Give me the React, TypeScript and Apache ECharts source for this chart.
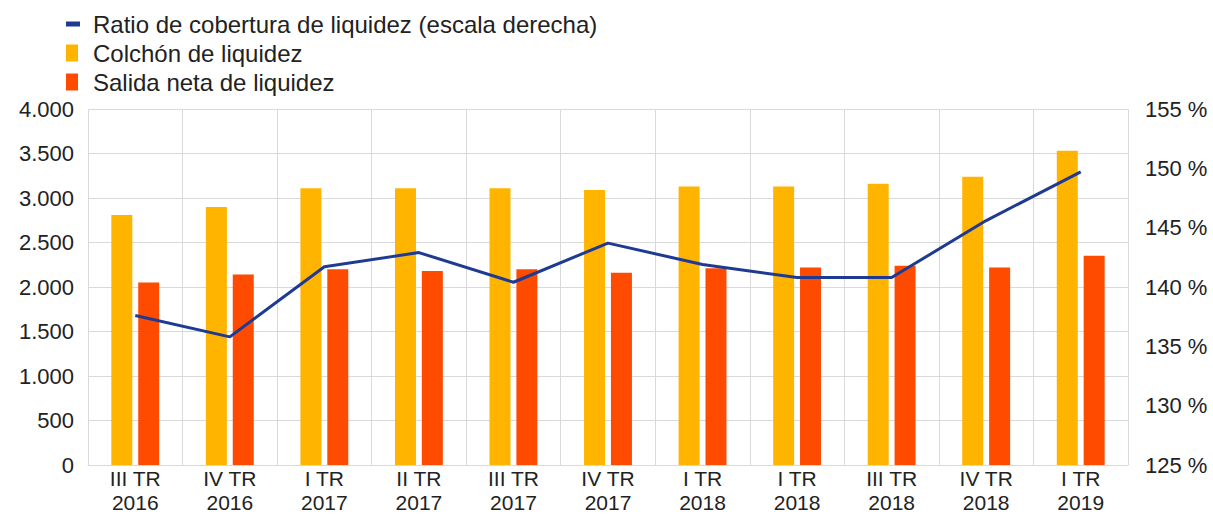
import React, { useEffect, useRef } from "react";
import * as echarts from "echarts";

const categories = [
  "III TR\n2016", "IV TR\n2016", "I TR\n2017", "II TR\n2017", "III TR\n2017", "IV TR\n2017",
  "I TR\n2018", "I TR\n2018", "III TR\n2018", "IV TR\n2018", "I TR\n2019",
];
const colchon = [2810, 2900, 3110, 3110, 3110, 3090, 3130, 3130, 3160, 3240, 3530];
const salida = [2050, 2140, 2200, 2180, 2200, 2160, 2210, 2220, 2240, 2220, 2350];
const ratio = [137.6, 135.8, 141.7, 142.9, 140.4, 143.7, 141.9, 140.8, 140.8, 145.6, 149.7];

const NAME_RATIO = "Ratio de cobertura de liquidez (escala derecha)";
const NAME_COLCHON = "Colchón de liquidez";
const NAME_SALIDA = "Salida neta de liquidez";

const FONT = "'Liberation Sans', Arial, sans-serif";
const TXT = "#222222";
const GRIDC = "#d9d9d9";
const BLUE = "#1f3a93";

export default function App() {
  const ref = useRef<HTMLDivElement>(null);
  useEffect(() => {
    if (!ref.current) return;
    const chart = echarts.init(ref.current, null, { renderer: "svg" });
    const fmtThousands = (v: number) =>
      String(v).replace(/\B(?=(\d{3})+(?!\d))/g, ".");
    const corners = "M0,0 L0.01,0 L0.01,0.01 Z M21.99,16.99 L22,16.99 L22,17 Z";
    chart.setOption({
      animation: false,
      textStyle: { fontFamily: FONT },
      legend: {
        orient: "vertical",
        left: 61,
        top: 7,
        itemWidth: 22,
        itemHeight: 17,
        itemGap: 5,
        textStyle: { fontFamily: FONT, fontSize: 24, lineHeight: 24, color: TXT },
        data: [
          {
            name: NAME_RATIO,
            icon: "path://" + corners + " M0,6 L14,6 L14,11 L0,11 Z",
            itemStyle: { color: BLUE },
          },
          { name: NAME_COLCHON, icon: "path://" + corners + " M0,0 L12,0 L12,17 L0,17 Z" },
          { name: NAME_SALIDA, icon: "path://" + corners + " M0,0 L12,0 L12,17 L0,17 Z" },
        ],
      },
      grid: { left: 88, right: 85, top: 109, bottom: 45 },
      xAxis: {
        type: "category",
        data: categories,
        boundaryGap: true,
        axisLine: { show: true, lineStyle: { color: GRIDC, width: 1 } },
        axisTick: { show: false },
        axisLabel: {
          interval: 0,
          color: TXT,
          fontFamily: FONT,
          fontSize: 21,
          lineHeight: 24,
          margin: 1,
        },
        splitLine: { show: true, interval: 0, lineStyle: { color: GRIDC, width: 1 } },
      },
      yAxis: [
        {
          type: "value",
          min: 0,
          max: 4000,
          interval: 500,
          axisLine: { show: false },
          axisTick: { show: false },
          axisLabel: {
            color: TXT,
            fontFamily: FONT,
            fontSize: 22,
            margin: 14,
            formatter: (v: number) => fmtThousands(v),
          },
          splitLine: { show: true, lineStyle: { color: GRIDC, width: 1 } },
        },
        {
          type: "value",
          min: 125,
          max: 155,
          interval: 5,
          position: "right",
          axisLine: { show: false },
          axisTick: { show: false },
          axisLabel: {
            color: TXT,
            fontFamily: FONT,
            fontSize: 22,
            margin: 17,
            formatter: "{value} %",
          },
          splitLine: { show: false },
        },
      ],
      series: [
        {
          name: NAME_COLCHON,
          type: "bar",
          data: colchon,
          barWidth: 21,
          barGap: "28%",
          itemStyle: { color: "#ffb400" },
        },
        {
          name: NAME_SALIDA,
          type: "bar",
          data: salida,
          barWidth: 21,
          barGap: "28%",
          itemStyle: { color: "#ff4b00" },
        },
        {
          name: NAME_RATIO,
          type: "line",
          yAxisIndex: 1,
          data: ratio,
          symbol: "none",
          z: 5,
          lineStyle: { color: BLUE, width: 3 },
          itemStyle: { color: BLUE },
        },
      ],
    });
    return () => chart.dispose();
  }, []);
  return (
    <div
      ref={ref}
      style={{ position: "fixed", left: 0, top: 0, width: 1213, height: 514, background: "#fff" }}
    />
  );
}
